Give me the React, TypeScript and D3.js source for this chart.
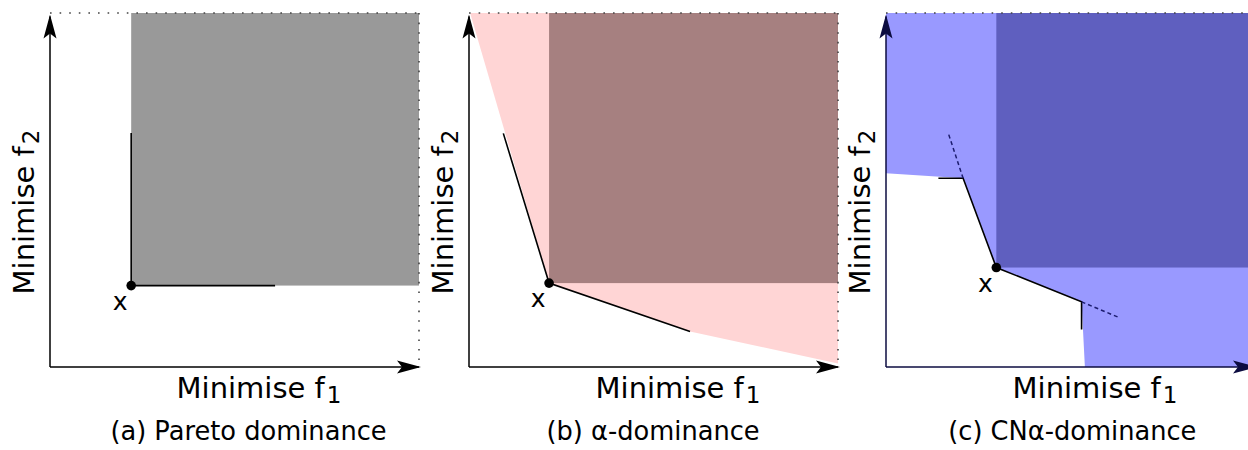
import React from 'react';
import * as d3 from 'd3';

// captions under each panel
const captions = ['(a) Pareto dominance', '(b) α-dominance', '(c) CNα-dominance'];
const axisLabel = 'Minimise f';

// the solution x in each panel (objective space, 0..100)
const pointF1 = [22.0, 21.7, 29.9];
const pointF2 = [23.0, 23.7, 28.1];

// extra region dominated by the relaxed relations
const lightRegionB = [[0.3, 100], [21.7, 23.7], [59.9, 10.0], [100, 1.0], [100, 100]];
const lightRegionC = [[0, 100], [0, 54.7], [20.9, 53.3], [29.9, 28.1], [53.0, 18.4], [53.9, 0], [100, 0], [100, 100]];

// trade-off lines through x
const solidA = [[22.0, 66.1], [22.0, 23.0], [61.0, 23.0]];
const solidB = [[9.3, 66.0], [21.7, 23.7], [59.9, 10.0]];
const solidC = [[14.2, 53.3], [20.9, 53.3], [29.9, 28.1], [53.0, 18.4], [53.0, 10.6]];
const dashedC = [
  [[20.9, 53.3], [16.9, 66.0]],
  [[53.0, 18.4], [63.1, 14.0]],
];

const darkColors = ['#999999', '#a68080', '#5f5fbf'];
const lightColors = ['none', '#ffd5d5', '#9999ff'];
const axisColors = ['#000000', '#000000', '#0c0c40'];

const origins = [50, 469, 886];
const captionCx = [53.8, 49.9, 50.5];
const W = 369;
const H = 354;
const bottom = 367;

function Panel({ i }) {
  const x = d3.scaleLinear().domain([0, 100]).range([origins[i], origins[i] + W]);
  const y = d3.scaleLinear().domain([0, 100]).range([bottom, bottom - H]);
  const line = d3.line().x((d) => x(d[0])).y((d) => y(d[1]));
  const light = i === 1 ? lightRegionB : i === 2 ? lightRegionC : null;
  const solid = [solidA, solidB, solidC][i];
  const px = pointF1[i];
  const py = pointF2[i];
  const font = '"DejaVu Sans", Verdana, sans-serif';

  return (
    <g>
      {light && <path d={line(light) + 'Z'} fill={lightColors[i]} />}
      <rect x={x(px)} y={y(100)} width={x(100) - x(px)} height={y(py) - y(100)} fill={darkColors[i]} />

      {/* dotted bounding box */}
      <path d={line([[0, 100], [100, 100]])} stroke="#444" strokeWidth={1.6} strokeDasharray="1.6,8" fill="none" />
      {i < 2 && (
        <path d={line([[100, 100], [100, 2]])} stroke="#444" strokeWidth={1.6} strokeDasharray="1.6,8" fill="none" />
      )}

      {/* axes */}
      <path d={line([[0, 0], [0, 99]])} stroke={axisColors[i]} strokeWidth={1.5} fill="none" markerEnd={`url(#arrow${i})`} />
      <path d={line([[0, 0], [100, 0]])} stroke={axisColors[i]} strokeWidth={1.5} fill="none" markerEnd={`url(#arrow${i})`} />

      <path d={line(solid)} stroke="#000" strokeWidth={1.6} fill="none" />
      {i === 2 &&
        dashedC.map((seg, k) => (
          <path key={k} d={line(seg)} stroke="#1c1c6e" strokeWidth={1.5} strokeDasharray="4,3" fill="none" />
        ))}

      <circle cx={x(px)} cy={y(py)} r={4.8} fill="#000" />
      <text x={x(px) - 11} y={y(py) + 24} fontFamily={font} fontSize={25} textAnchor="middle">x</text>

      <text x={origins[i] + 209} y={398} fontFamily={font} fontSize={29} textAnchor="middle">
        {axisLabel}
        <tspan fontSize={23} dy={5} dx={2}>1</tspan>
      </text>
      <text
        transform={`translate(${origins[i] - 16},212) rotate(-90)`}
        fontFamily={font}
        fontSize={29}
        textAnchor="middle"
      >
        {axisLabel}
        <tspan fontSize={23} dy={5} dx={2}>2</tspan>
      </text>

      <text x={x(captionCx[i])} y={440} fontFamily={font} fontSize={25.7} textAnchor="middle">
        {captions[i]}
      </text>
    </g>
  );
}

export default function App() {
  return (
    <>
      <style>{'body{margin:0}'}</style>
      <svg width={1248} height={450} style={{ display: 'block', background: '#fff' }}>
        <defs>
          {axisColors.map((c, i) => (
            <marker
              key={i}
              id={`arrow${i}`}
              markerUnits="userSpaceOnUse"
              viewBox="-24 -8 26 16"
              markerWidth={26}
              markerHeight={16}
              refX={0}
              refY={0}
              orient="auto"
            >
              <path d="M2,0 L-22,-6.5 L-17,0 L-22,6.5 Z" fill={c} />
            </marker>
          ))}
        </defs>
        {captions.map((_, i) => (
          <Panel key={i} i={i} />
        ))}
      </svg>
    </>
  );
}
